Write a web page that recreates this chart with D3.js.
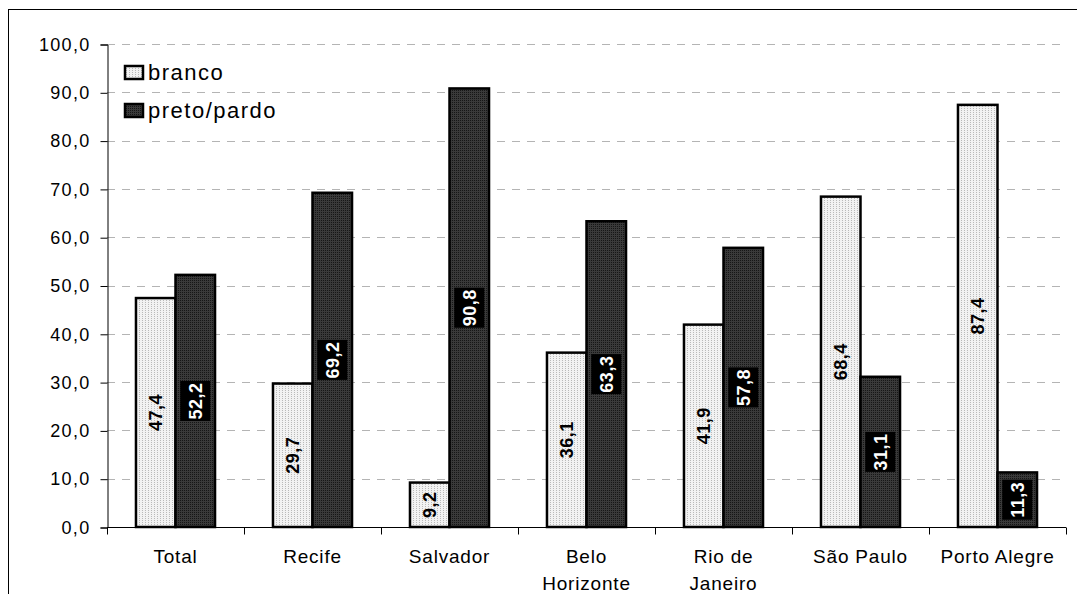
<!DOCTYPE html>
<html><head><meta charset="utf-8">
<script src="https://cdn.jsdelivr.net/npm/d3@7"></script>
<style>body{margin:0;background:#fff}svg{display:block;font-family:Arial,"Liberation Sans",sans-serif}</style>
</head><body><svg id="c" width="1077" height="594"></svg>
<script>
const categories = [["Total"],["Recife"],["Salvador"],["Belo","Horizonte"],["Rio de","Janeiro"],["São Paulo"],["Porto Alegre"]];
const seriesNames = ["branco","preto/pardo"];
const branco = [47.4,29.7,9.2,36.1,41.9,68.4,87.4];
const preto = [52.2,69.2,90.8,63.3,57.8,31.1,11.3];
const yTicks = [0,10,20,30,40,50,60,70,80,90,100];

const svg = d3.select("#c");
const defs = svg.append("defs");
const pl = defs.append("pattern").attr("id","pLight").attr("width",3).attr("height",2).attr("patternUnits","userSpaceOnUse");
pl.append("rect").attr("width",3).attr("height",2).attr("fill","#f2f2f2");
pl.append("rect").attr("width",1).attr("height",1).attr("fill","#b8b8b8");
const pd = defs.append("pattern").attr("id","pDark").attr("width",2).attr("height",2).attr("patternUnits","userSpaceOnUse");
pd.append("rect").attr("width",2).attr("height",2).attr("fill","#3a3a3a");
pd.append("rect").attr("width",1).attr("height",1).attr("fill","#151515");
const fills = ["url(#pLight)","url(#pDark)"];

svg.append("rect").attr("x",8.5).attr("y",9.5).attr("width",1200).attr("height",700).attr("fill","none").attr("stroke","#000").attr("stroke-width",1);

const pLeft=107, pRight=1066, pTop=44, pBottom=527;
const x0 = d3.scaleBand().domain(d3.range(categories.length)).range([pLeft,pRight]).paddingInner(0.423).paddingOuter(0.2115);
const x1 = d3.scaleBand().domain([0,1]).range([0,x0.bandwidth()]);
const y = d3.scaleLinear().domain([0,100]).range([pBottom,pTop]);

// grid
svg.append("g").selectAll("line").data(yTicks.filter(d=>d>0)).join("line")
  .attr("x1",pLeft).attr("x2",pRight).attr("y1",d=>Math.round(y(d))+0.5).attr("y2",d=>Math.round(y(d))+0.5)
  .attr("stroke","#b4b4b4").attr("stroke-dasharray","8,7");

// y axis
const ya = svg.append("g").attr("transform",`translate(${pLeft+0.5},0.5)`)
  .call(d3.axisLeft(y).tickValues(yTicks).tickSize(7).tickPadding(10).tickFormat(d=>d3.format(".1f")(d).replace(".",",")));
ya.select(".domain").attr("stroke","#000");
ya.selectAll("text").attr("font-size",18).attr("letter-spacing","1.3px").attr("fill","#000")
  .style("font-family","Arial, 'Liberation Sans', sans-serif");

// x axis
const xa = svg.append("g").attr("transform",`translate(0,${pBottom+0.5})`);
xa.append("line").attr("x1",pLeft).attr("x2",pRight).attr("stroke","#000");
xa.selectAll(".tk").data(d3.range(categories.length+1)).join("line").attr("class","tk")
  .attr("x1",i=>Math.round(pLeft+i*x0.step())+0.5).attr("x2",i=>Math.round(pLeft+i*x0.step())+0.5)
  .attr("y1",0).attr("y2",7).attr("stroke","#000");
xa.selectAll(".lb").data(categories).join("text").attr("class","lb")
  .attr("text-anchor","middle").attr("font-size",19).attr("letter-spacing","0.8px").attr("fill","#000")
  .attr("transform",(d,i)=>`translate(${x0(i)+x0.bandwidth()/2},35)`)
  .selectAll("tspan").data(d=>d).join("tspan").attr("x",0).attr("dy",(d,j)=>j===0?0:27).text(d=>d);

// bars
const data = categories.map((c,i)=>[branco[i],preto[i]]);
const groups = svg.append("g").selectAll("g").data(data).join("g").attr("transform",(d,i)=>`translate(${x0(i)},0)`);
groups.selectAll("rect").data(d=>d).join("rect")
  .attr("x",(d,j)=>x1(j)).attr("width",x1.bandwidth())
  .attr("y",d=>y(d)).attr("height",d=>pBottom-y(d))
  .attr("fill",(d,j)=>fills[j]).attr("stroke","#000").attr("stroke-width",2.5);

// labels
const fmt = v=>d3.format(".1f")(v).replace(".",",");
groups.each(function(d){
  const g = d3.select(this);
  d.forEach((v,j)=>{
    const cx = x1(j)+x1.bandwidth()/2, cy=(y(v)+pBottom)/2;
    const lg = g.append("g").attr("transform",`translate(${cx},${cy}) rotate(-90)`);
    if(j===1) lg.append("rect").attr("x",-20).attr("y",-15).attr("width",40).attr("height",30).attr("fill","#000");
    lg.append("text").attr("text-anchor","middle").attr("dy","0.36em").attr("font-size",18).attr("font-weight","bold")
      .attr("letter-spacing","0.5px").attr("fill",j===1?"#fff":"#000").text(fmt(v));
  });
});

// legend
const lgd = svg.append("g");
seriesNames.forEach((n,i)=>{
  lgd.append("rect").attr("x",125).attr("y",66+i*38).attr("width",18).attr("height",13)
    .attr("fill",fills[i]).attr("stroke","#000").attr("stroke-width",2.5);
  lgd.append("text").attr("x",148).attr("y",80+i*38).attr("font-size",22).attr("letter-spacing","1.5px").attr("fill","#000").text(n);
});
</script></body></html>
